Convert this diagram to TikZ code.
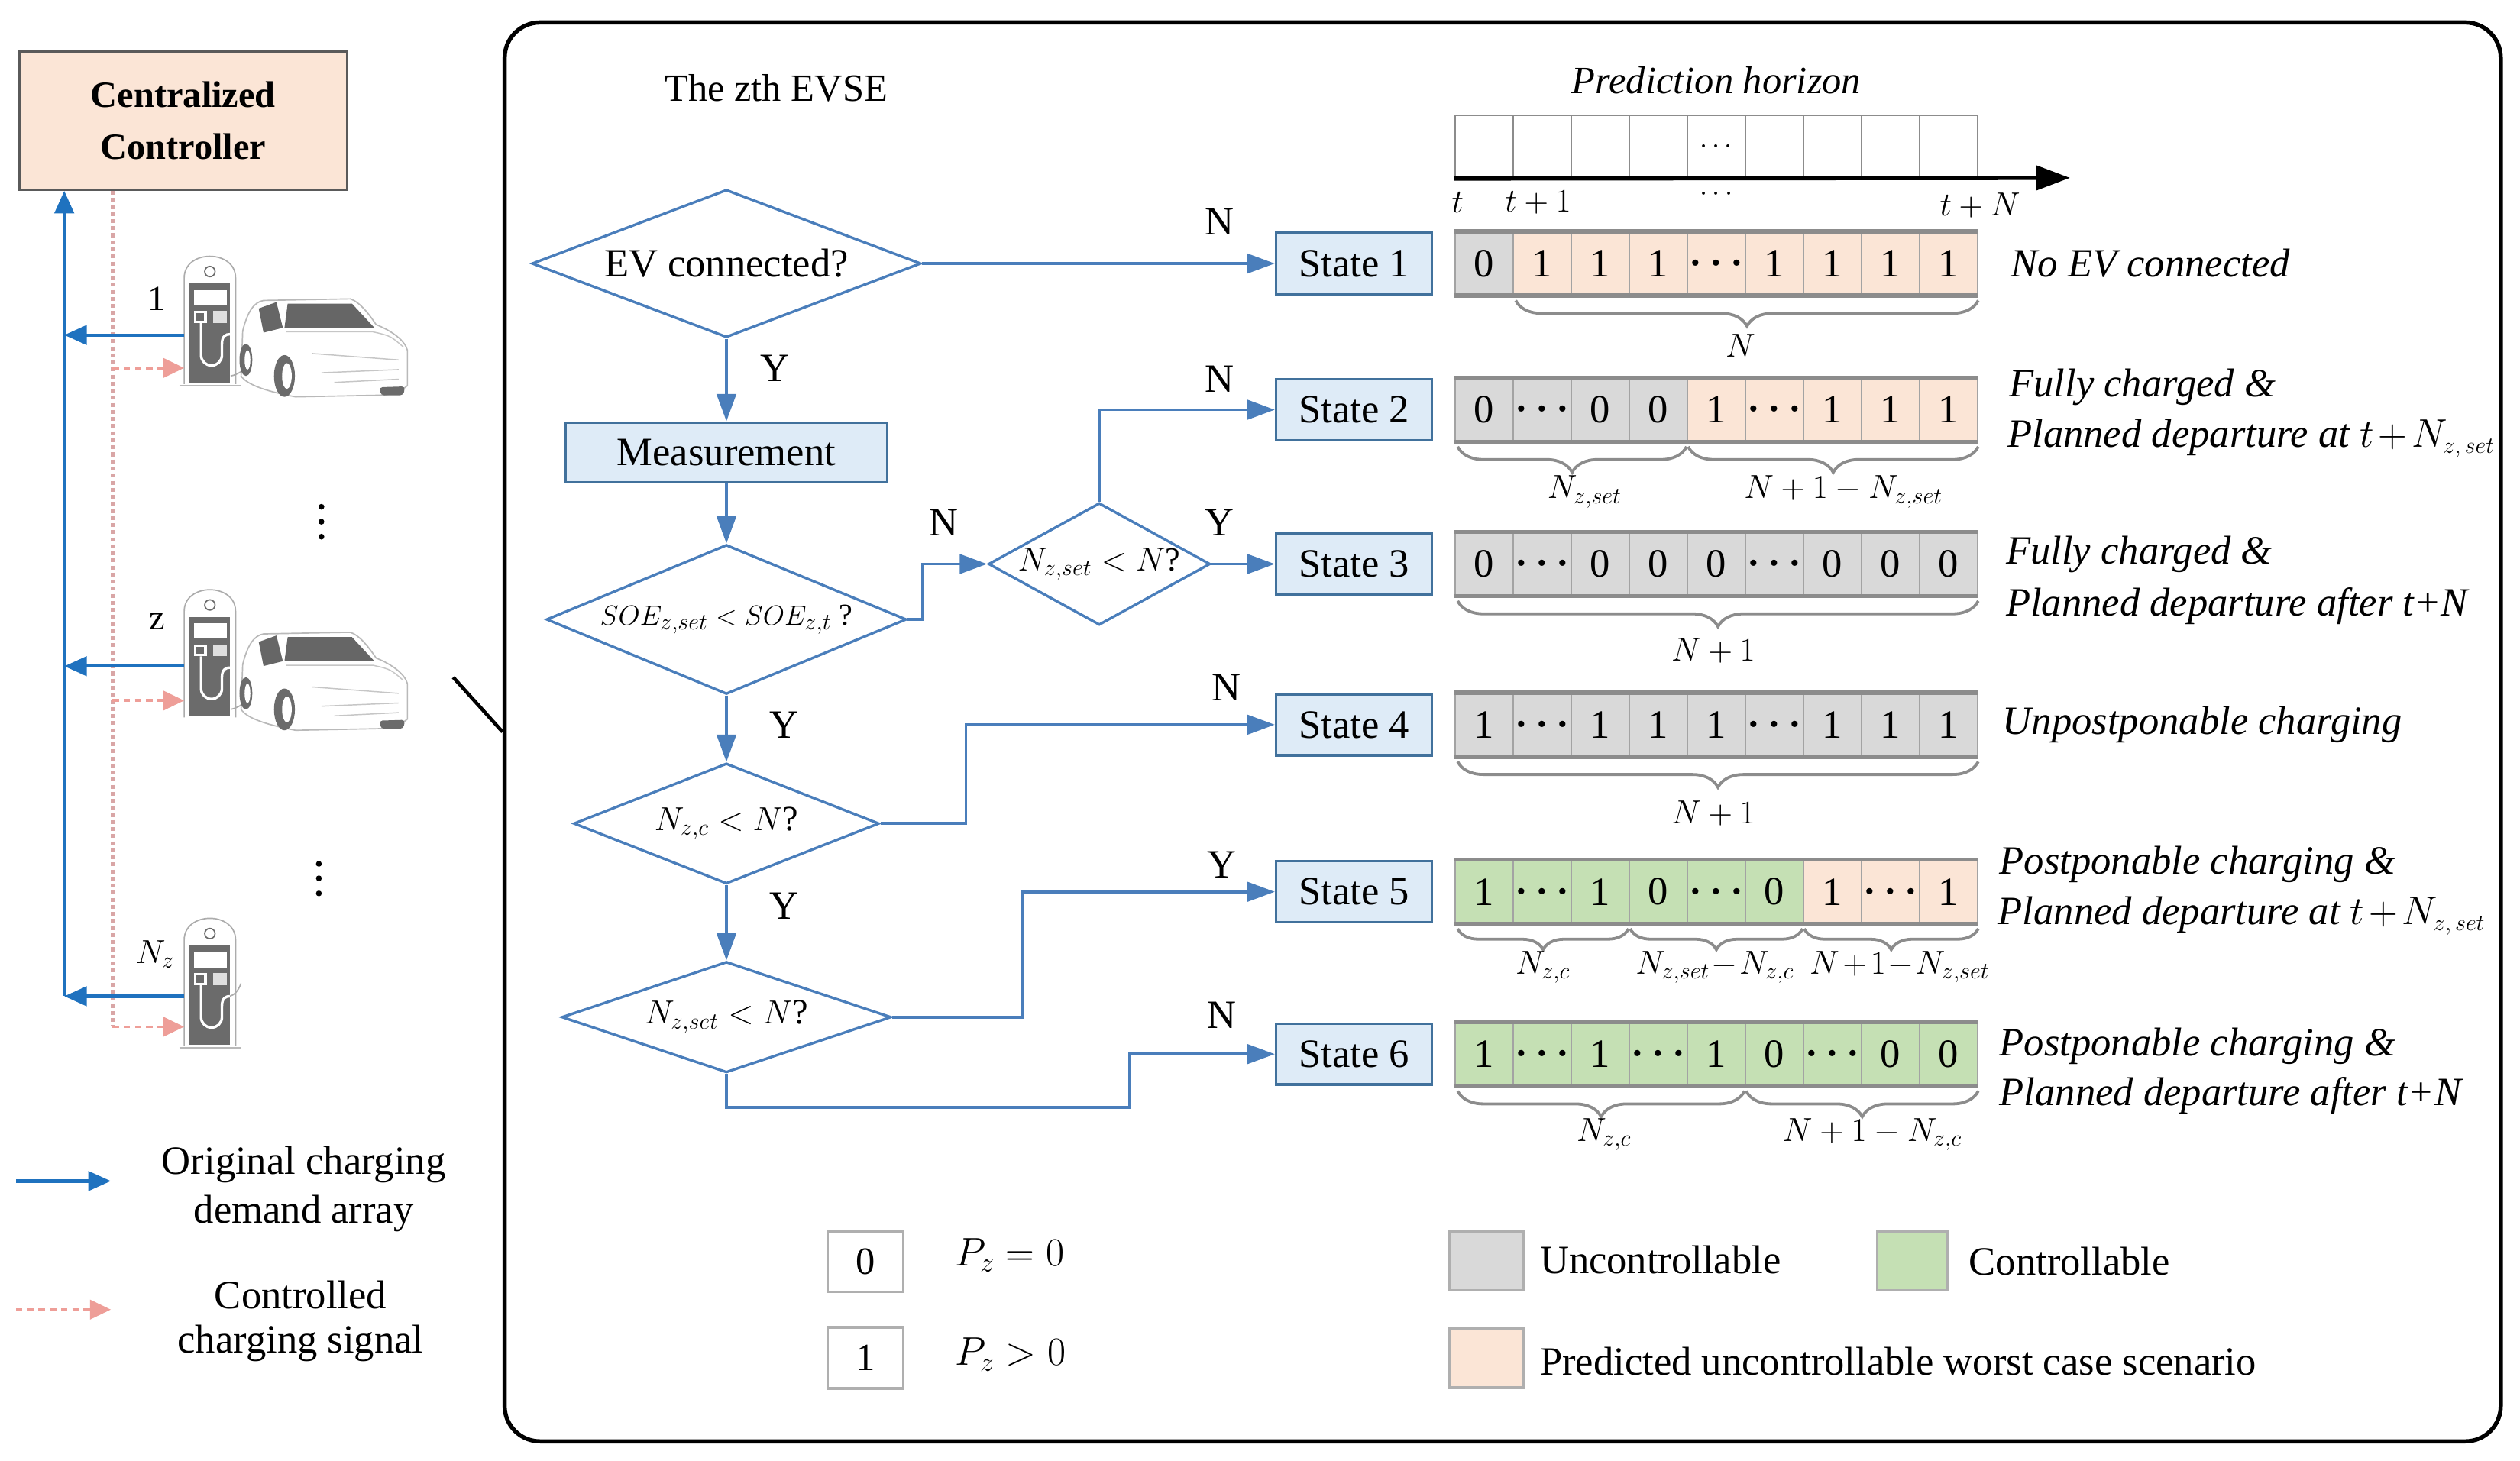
\documentclass[tikz,border=0pt]{standalone}
\usepackage{fontspec}
\setmainfont{Liberation Serif}
\usetikzlibrary{arrows.meta,shapes.geometric,decorations.pathreplacing,calc}
\definecolor{flow}{HTML}{4A7EBB}
\definecolor{stfill}{HTML}{DEEBF7}
\definecolor{stdraw}{HTML}{41719C}
\definecolor{peach}{HTML}{FBE5D6}
\definecolor{ungray}{HTML}{D9D9D9}
\definecolor{ctgreen}{HTML}{C5E0B4}
\definecolor{cellline}{HTML}{8C8C8C}
\definecolor{bluear}{HTML}{1F72BF}
\definecolor{pinkar}{HTML}{EE9E98}
\definecolor{pinkdot}{HTML}{D9A6A6}
\definecolor{devgray}{HTML}{6B6B6B}
\definecolor{wingray}{HTML}{666666}
\definecolor{ctrldraw}{HTML}{5A5A5A}
\newcommand{\fsz}[1]{\fontsize{#1pt}{#1pt}\selectfont}
\newcommand{\cdd}{{\boldmath$\cdots$}}
\newcommand{\tpl}{\mkern2mu{+}\mkern2mu}
\newcommand{\tmi}{\mkern1mu{-}\mkern1mu}
\newcommand{\zsetsub}{\mbox{\fsz{14}$z,set$}}
\newcommand{\cellrow}[3]{%
  \foreach \cf/\ct [count=\i from 0] in {#3} {
    \node[cell, fill=\cf] (#1c\i) at ({923.55+36.1*\i},#2) {\ct};
  }
  \draw[rowline] (#1c0.north west) -- (#1c8.north east);
  \draw[rowline] (#1c0.south west) -- (#1c8.south east);
}
\tikzset{
  evcharger/.pic={
    \draw[gray!55, line width=0.8pt] (-3,82) -- (35,82);
    \draw[gray!65, line width=0.8pt, fill=white] (0,81) -- (0,15) .. controls (0,-3) and (32,-3) .. (32,15) -- (32,81);
    \fill[devgray] (3.5,18.5) rectangle (28.5,80);
    \draw[devgray, line width=0.8pt] (16,11) circle (3.2);
    \fill[white] (6,22.5) rectangle (26.5,32);
    \fill[white] (6,35.5) rectangle (14,43);
    \fill[devgray] (7.5,37) rectangle (12.5,41.5);
    \fill[gray!25] (18,35.5) rectangle (26.5,43);
    \draw[white, line width=1.6pt] (10.5,43) -- (10.5,63) arc[start angle=180, end angle=0, radius=6.5] -- (23.5,56) .. controls (23.5,51) and (26,50) .. (28.5,50);
  },
  evcar/.pic={
    \draw[gray!65, line width=0.8pt] (-4.5,50) .. controls (-2,49.5) and (0,48.5) .. (2.5,47);
    \draw[gray!55, line width=0.8pt, fill=white] (3,22) .. controls (6,10) and (10,4) .. (16,3) -- (70,2) .. controls (76,4) and (82,12) .. (86,18) .. controls (96,22) and (104,28) .. (105.5,34) -- (105.5,56) .. controls (100,61) and (92,62) .. (86,62) -- (36,63) .. controls (20,60) and (6,56) .. (2,50) -- cycle;
    \fill[wingray] (13,8) -- (24,4) -- (28,20) -- (16,23) -- cycle;
    \fill[wingray] (31,5) -- (71,5) -- (85,20) -- (29,20) -- cycle;
    \draw[gray!45, line width=0.7pt] (30,22.5) -- (84,22.5) .. controls (95,25) .. (103,32);
    \draw[gray!45, line width=0.7pt] (46,36) -- (100,40);
    \draw[gray!45, line width=0.7pt] (52,48) -- (100,46);
    \draw[gray!45, line width=0.7pt] (60,54) -- (100,52);
    \fill[devgray] (5,40) ellipse [x radius=4, y radius=10];
    \fill[white] (6,40) ellipse [x radius=1.8, y radius=6];
    \fill[devgray] (29,50) ellipse [x radius=6.5, y radius=13];
    \fill[white] (30.5,50) ellipse [x radius=3, y radius=8];
    \fill[devgray, rounded corners=2pt] (88,57) -- (104,56.5) -- (103,62) -- (89,62) -- cycle;
  }
}
\begin{document}
\begin{tikzpicture}[x=1pt,y=-1pt,
  state/.style={draw=stdraw, fill=stfill, line width=1.6pt, minimum width=97pt, minimum height=38pt, inner sep=0pt, font=\fsz{25}},
  dec/.style={diamond, draw=flow, line width=1.6pt, inner sep=0pt, shape aspect=2.5, fill=white},
  flowline/.style={draw=flow, line width=1.8pt},
  flowarrow/.style={flowline, -{Triangle[length=17pt,width=12pt]}},
  lbl/.style={font=\fsz{25}, inner sep=0pt},
  mlbl/.style={font=\fsz{22}, inner sep=0pt},
  cell/.style={draw=cellline!80, line width=1pt, minimum width=36.1pt, minimum height=39pt, inner sep=0pt, font=\fsz{25}},
  tcell/.style={draw=cellline, line width=0.9pt, fill=white, minimum width=36.1pt, minimum height=38.7pt, inner sep=0pt},
  rowline/.style={draw=cellline, line width=2.6pt},
  bracegray/.style={decorate, decoration={brace, mirror, amplitude=#1}, draw=cellline, line width=1.8pt},
  bracegray/.default=16pt,
  rtext/.style={font=\itshape\fsz{25}, inner sep=0pt, anchor=west},
  bluearrow/.style={draw=bluear, line width=2pt, -{Triangle[length=14pt,width=12pt]}},
  pinkarrow/.style={draw=pinkar, line width=1.8pt, dash pattern=on 4pt off 3pt, -{Triangle[length=13pt,width=12pt]}},
  legbox/.style={draw=cellline!70, line width=1.8pt, minimum width=46pt, minimum height=37pt, inner sep=0pt}
]
\fill[white] (0,0) rectangle (1568,909.2);
\useasboundingbox (0,0) rectangle (1568,909.2);

% ---------------- left part ----------------
\node[draw=ctrldraw, line width=1.6pt, fill=peach, minimum width=204pt, minimum height=86pt, align=center,
      font=\bfseries\fontsize{23pt}{32.5pt}\selectfont] (ctrl) at (114,75) {Centralized\\Controller};

\pic at (114.6,158) {evcharger};
\pic at (148,184) {evcar};
\pic at (114.6,365.5) {evcharger};
\pic at (148,391.5) {evcar};
\pic at (114.6,570) {evcharger};
\draw[gray!65, line width=0.8pt] (143.1,620) .. controls (146,619) and (148,617) .. (150,612);

\coordinate (bl1) at (40,208.5);   \coordinate (st1b) at (114.6,208.5);
\coordinate (pk1) at (70,229);     \coordinate (st1p) at (114.6,229);
\coordinate (bl2) at (40,414.6);   \coordinate (st2b) at (114.6,414.6);
\coordinate (pk2) at (70,436);     \coordinate (st2p) at (114.6,436);
\coordinate (bl3) at (40,620);     \coordinate (st3b) at (114.6,620);
\coordinate (pk3) at (70,639);     \coordinate (st3p) at (114.6,639);

\draw[draw=pinkdot, line width=2.4pt, dash pattern=on 2.4pt off 2pt] (ctrl.south -| pk1) -- (pk3);
\draw[bluearrow] (bl3) -- (ctrl.south -| bl3);
\draw[bluearrow] (st1b) -- (bl1);
\draw[bluearrow] (st2b) -- (bl2);
\draw[bluearrow] (st3b) -- (bl3);
\draw[pinkarrow] (pk1) -- (st1p);
\draw[pinkarrow] (pk2) -- (st2p);
\draw[pinkarrow] (pk3) -- (st3p);

\node[font=\fsz{22}, inner sep=0pt] (n1) at (97.5,186) {1};
\node[font=\fsz{22}, inner sep=0pt] (nz) at (98,387) {z};
\node[font=\fsz{22}, inner sep=0pt] (nN) at (96.5,594) {$N_z$};

\foreach \yy in {315.4,324.7,334} \fill (200,\yy) circle (1.8);
\foreach \yy in {537.6,546.6,556} \fill (198.4,\yy) circle (1.8);

\coordinate (lg1a) at (10,735); \coordinate (lg1b) at (69,735);
\coordinate (lg2a) at (10,815); \coordinate (lg2b) at (69,815);
\draw[bluearrow] (lg1a) -- (lg1b);
\draw[pinkarrow] (lg2a) -- (lg2b);
\node[lbl] (lgt1) at (189,725) {Original charging};
\node[lbl] (lgt2) at (189,755) {demand array};
\node[lbl] (lgt3) at (187,806) {Controlled};
\node[lbl] (lgt4) at (187,836) {charging signal};

% ---------------- panel ----------------
\node[draw=black, line width=2.6pt, rounded corners=22pt, minimum width=1242pt, minimum height=883pt, inner sep=0pt] (panel) at (935,455.5) {};
\coordinate (zl) at (282,421.5);
\draw[line width=2.2pt] (zl) -- (panel.west);

\node[font=\fsz{24}, inner sep=0pt] (title) at (483,55) {The zth EVSE};

% flowchart
\node[dec, minimum width=242pt, minimum height=92pt] (d1) at (452,164) {\makebox[0pt]{\fsz{25}EV connected?}};
\node[draw=stdraw, fill=stfill, line width=1.6pt, minimum width=200pt, minimum height=37pt, inner sep=0pt, font=\fsz{25}] (meas) at (452,281.5) {Measurement};
\node[dec, minimum width=224pt, minimum height=93pt] (d2) at (452,385.5) {\makebox[0pt]{\fsz{19}$SOE_{z,set} < SOE_{z,t}$ ?}};
\node[dec, minimum width=138pt, minimum height=76pt] (d3) at (684,351) {\makebox[0pt]{\fsz{21}$N_{z,set} < N$?}};
\node[dec, minimum width=190pt, minimum height=75pt] (d4) at (452,512.5) {\makebox[0pt]{\fsz{22}$N_{z,c} < N$?}};
\node[dec, minimum width=205pt, minimum height=69pt] (d5) at (452,633) {\makebox[0pt]{\fsz{22}$N_{z,set} < N$?}};

\node[state] (s1) at (842.5,164) {State 1};
\node[state] (s2) at (842.5,255) {State 2};
\node[state] (s3) at (842.5,351) {State 3};
\node[state] (s4) at (842.5,451) {State 4};
\node[state] (s5) at (842.5,555) {State 5};
\node[state] (s6) at (842.5,656) {State 6};

\draw[flowarrow] (d1.east) -- (s1.west);
\draw[flowarrow] (d1.south) -- (meas.north);
\draw[flowarrow] (meas.south) -- (d2.north);
\coordinate (k2) at (574,385.5);
\draw[flowarrow] (d2.east) -- (k2) |- (d3.west);
\draw[flowarrow] (d3.north) |- (s2.west);
\draw[flowarrow] (d3.east) -- (s3.west);
\draw[flowarrow] (d2.south) -- (d4.north);
\coordinate (k4) at (601,512.5);
\draw[flowarrow] (d4.east) -- (k4) |- (s4.west);
\draw[flowarrow] (d4.south) -- (d5.north);
\coordinate (k5) at (636,633);
\draw[flowarrow] (d5.east) -- (k5) |- (s5.west);
\coordinate (k6) at (703,689);
\draw[flowarrow] (d5.south) |- (k6) |- (s6.west);

\node[lbl] (l1) at (759,138) {N};
\node[lbl] (l2) at (482,229) {Y};
\node[lbl] (l3) at (759,236) {N};
\node[lbl] (l4) at (587,325) {N};
\node[lbl] (l5) at (759,325) {Y};
\node[lbl] (l6) at (763,428) {N};
\node[lbl] (l7) at (488,451) {Y};
\node[lbl] (l8) at (488,564) {Y};
\node[lbl] (l9) at (760,538) {Y};
\node[lbl] (l10) at (760,632) {N};

% ---------------- prediction horizon ----------------
\node[font=\itshape\fsz{24}, inner sep=0pt] (ph) at (1068,50) {Prediction horizon};
\foreach \i in {0,...,8} \node[tcell] (tl\i) at ({923.55+36.1*\i},91.35) {};
\node[font=\fsz{18}, inner sep=0pt] (tldots) at (tl4) {$\cdots$};
\coordinate (tlend) at (1288,110.7);
\draw[line width=2.6pt, -{Triangle[length=21pt,width=15pt]}] (tl0.south west) -- (tlend);
\node[font=\fsz{20}, inner sep=0pt] (tt0) at (907,126) {$t$};
\node[font=\fsz{20}, inner sep=0pt] (tt1) at (957,126) {$t+1$};
\node[font=\fsz{18}, inner sep=0pt] (tt2) at (1068,121) {$\cdots$};
\node[font=\fsz{20}, inner sep=0pt] (tt3) at (1232,128) {$t+N$};

% ---------------- rows ----------------
\cellrow{r1}{164}{ungray/0,peach/1,peach/1,peach/1,peach/\cdd,peach/1,peach/1,peach/1,peach/1}
\cellrow{r2}{255}{ungray/0,ungray/\cdd,ungray/0,ungray/0,peach/1,peach/\cdd,peach/1,peach/1,peach/1}
\cellrow{r3}{351}{ungray/0,ungray/\cdd,ungray/0,ungray/0,ungray/0,ungray/\cdd,ungray/0,ungray/0,ungray/0}
\cellrow{r4}{451}{ungray/1,ungray/\cdd,ungray/1,ungray/1,ungray/1,ungray/\cdd,ungray/1,ungray/1,ungray/1}
\cellrow{r5}{555}{ctgreen/1,ctgreen/\cdd,ctgreen/1,ctgreen/0,ctgreen/\cdd,ctgreen/0,peach/1,peach/\cdd,peach/1}
\cellrow{r6}{656}{ctgreen/1,ctgreen/\cdd,ctgreen/1,ctgreen/\cdd,ctgreen/1,ctgreen/0,ctgreen/\cdd,ctgreen/0,ctgreen/0}

\draw[bracegray] ($(r1c1.south west)+(2,3)$) -- ($(r1c8.south east)+(0,3)$);
\node[mlbl] (b1) at (1083,215) {$N$};
\draw[bracegray] ($(r2c0.south west)+(2,3)$) -- ($(r2c3.south east)+(-1,3)$);
\draw[bracegray] ($(r2c4.south west)+(1,3)$) -- ($(r2c8.south east)+(0,3)$);
\node[mlbl] (b2) at (986,306) {$N_{z,set}$};
\node[mlbl] (b3) at (1147,306) {$N+1-N_{z,set}$};
\draw[bracegray] ($(r3c0.south west)+(2,3)$) -- ($(r3c8.south east)+(0,3)$);
\node[mlbl] (b4) at (1066,405) {$N+1$};
\draw[bracegray] ($(r4c0.south west)+(2,3)$) -- ($(r4c8.south east)+(0,3)$);
\node[mlbl] (b5) at (1066,506) {$N+1$};
\draw[bracegray=13pt] ($(r5c0.south west)+(2,3)$) -- ($(r5c2.south east)+(-1,3)$);
\draw[bracegray=13pt] ($(r5c3.south west)+(1,3)$) -- ($(r5c5.south east)+(-1,3)$);
\draw[bracegray=13pt] ($(r5c6.south west)+(1,3)$) -- ($(r5c8.south east)+(0,3)$);
\node[mlbl, font=\fsz{20}] (b6) at (960,602) {$N_{z,c}$};
\node[mlbl, font=\fsz{20}] (b7) at (1067,602) {$N_{z,set}\tmi N_{z,c}$};
\node[mlbl, font=\fsz{20}] (b8) at (1182,602) {$N\tpl 1\tmi N_{z,set}$};
\draw[bracegray] ($(r6c0.south west)+(2,3)$) -- ($(r6c4.south east)+(-1,3)$);
\draw[bracegray] ($(r6c5.south west)+(1,3)$) -- ($(r6c8.south east)+(0,3)$);
\node[mlbl] (b9) at (998,706) {$N_{z,c}$};
\node[mlbl] (b10) at (1165,706) {$N+1-N_{z,c}$};

\node[rtext] (t1) at (1251,164) {No EV connected};
\node[rtext] (t2a) at (1250,241) {Fully charged \&};
\node[rtext] (t2b) at (1249,273) {Planned departure at $t\tpl N_{\zsetsub}$};
\node[rtext] (t3a) at (1248,345) {Fully charged \&};
\node[rtext] (t3b) at (1248,377) {Planned departure after t+N};
\node[rtext] (t4) at (1246,451) {Unpostponable charging};
\node[rtext] (t5a) at (1244,538) {Postponable charging \&};
\node[rtext] (t5b) at (1243,570) {Planned departure at $t\tpl N_{\zsetsub}$};
\node[rtext] (t6a) at (1244,651) {Postponable charging \&};
\node[rtext] (t6b) at (1244,682) {Planned departure after t+N};

% ---------------- legends ----------------
\node[legbox, fill=white, minimum width=47pt, minimum height=38pt, font=\fsz{24}] (lg0) at (538.5,785) {0};
\node[legbox, fill=white, minimum width=47pt, minimum height=38pt, font=\fsz{24}] (lg1) at (538.5,845) {1};
\node[font=\fsz{24}, inner sep=0pt, anchor=west] (pz0) at (594,781) {$P_z = 0$};
\node[font=\fsz{24}, inner sep=0pt, anchor=west] (pz1) at (594,843) {$P_z > 0$};

\node[legbox, fill=ungray] (lgu) at (925,784.5) {};
\node[legbox, fill=ctgreen, minimum width=44pt] (lgc) at (1190,784.5) {};
\node[legbox, fill=peach] (lgp) at (925,845) {};
\node[font=\fsz{25}, inner sep=0pt, anchor=west] (tu) at (958,784) {Uncontrollable};
\node[font=\fsz{25}, inner sep=0pt, anchor=west] (tc) at (1225,785) {Controllable};
\node[font=\fsz{25}, inner sep=0pt, anchor=west] (tp) at (958,847) {Predicted uncontrollable worst case scenario};
\end{tikzpicture}
\end{document}
